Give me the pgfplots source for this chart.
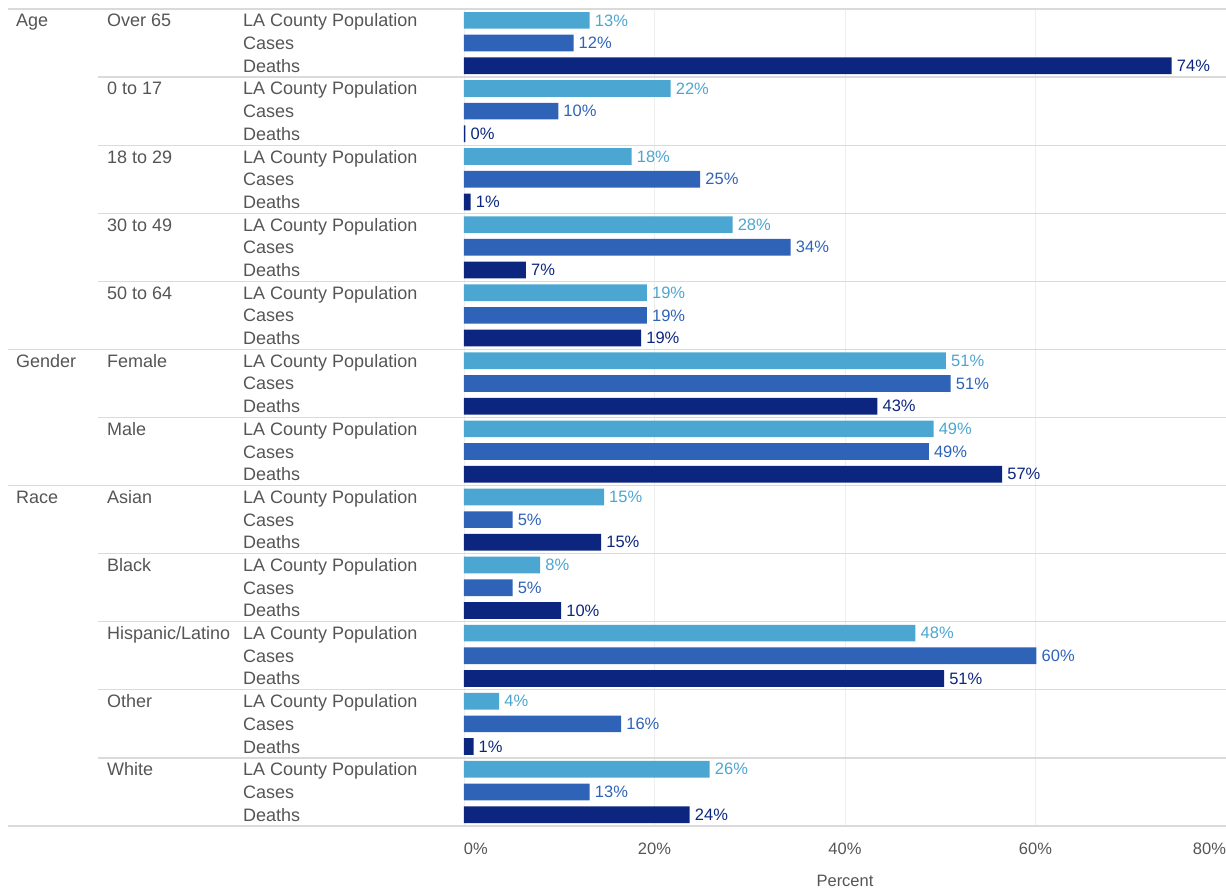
\documentclass[border=0pt]{standalone}
\usepackage{pgfplots}
\usepackage{pgfplotstable}
\pgfplotsset{compat=1.18}
\usepackage{fontspec}
\setmainfont{Liberation Sans}
\definecolor{cpop}{RGB}{75,166,209}
\definecolor{ccas}{RGB}{46,99,184}
\definecolor{cdea}{RGB}{12,38,128}
\definecolor{txt}{RGB}{85,85,85}
\definecolor{sep}{RGB}{218,218,218}
\definecolor{grd}{RGB}{238,238,238}
\newcommand\lab{\fontsize{18}{21}\selectfont}
\newcommand\val{\fontsize{16.5}{19}\selectfont}

\pgfplotstableread{
y v l
0 13.2 13
3 21.7 22
6 17.6 18
9 28.2 28
12 19.2 19
15 50.6 51
18 49.3 49
21 14.7 15
24 8.0 8
27 47.4 48
30 3.7 4
33 25.8 26
}\tpop
\pgfplotstableread{
y v l
1 11.5 12
4 9.9 10
7 24.8 25
10 34.3 34
13 19.2 19
16 51.1 51
19 48.8 49
22 5.1 5
25 5.1 5
28 60.1 60
31 16.5 16
34 13.2 13
}\tcas
\pgfplotstableread{
y v l
2 74.3 74
5 0.15 0
8 0.7 1
11 6.5 7
14 18.6 19
17 43.4 43
20 56.5 57
23 14.4 15
26 10.2 10
29 50.4 51
32 1.0 1
35 23.7 24
}\tdea

\begin{document}
\begin{tikzpicture}
\begin{axis}[
  scale only axis, width=762pt, height=817pt,
  xmin=0, xmax=80, ymin=-0.5, ymax=35.5, y dir=reverse,
  axis line style={draw=none}, ytick=\empty,
  xtick={0,20,40,60,80},
  xticklabels={\makebox[0pt][l]{0\%},20\%,40\%,60\%,\makebox[0pt][r]{80\%}},
  xmajorgrids, grid style={color=grd, line width=0.8pt},
  major tick length=0pt,
  xticklabel style={text=txt, font=\val, anchor=base, yshift=-28pt},
  xlabel={Percent},
  xlabel style={text=txt, font=\val, anchor=base, at={(axis description cs:0.5,0)}, yshift=-60pt},
  xbar, bar width=16.7pt,
  clip=false,
  /pgf/number format/assume math mode=true,
  point meta=explicit,
  nodes near coords={\pgfmathprintnumber{\pgfplotspointmeta}\%},
  every node near coord/.append style={font=\val, anchor=west, inner sep=0pt, xshift=5pt},
]
\addplot[fill=cpop, draw=none, bar shift=0pt, every node near coord/.append style={text=cpop}] table[x=v,y=y,meta=l]{\tpop};
\addplot[fill=ccas, draw=none, bar shift=0pt, every node near coord/.append style={text=ccas}] table[x=v,y=y,meta=l]{\tcas};
\addplot[fill=cdea, draw=none, bar shift=0pt, every node near coord/.append style={text=cdea}] table[x=v,y=y,meta=l]{\tdea};
\coordinate (O) at (axis cs:0,35.5);
\end{axis}
\pgfresetboundingbox
\begin{scope}[shift={(O)}, xshift=-464pt, yshift=-63pt, x=1pt, y=1pt]
\path[use as bounding box] (0,0) rectangle (1226,889);
% separators
\foreach \g in {1,2,3,4,6,8,9,10,11} {
  \draw[sep, line width=1.2pt] (98,{880-3*\g*22.69444}) -- (1226,{880-3*\g*22.69444});
}
\foreach \g in {0,5,7,12} {
  \draw[sep, line width=1.2pt] (8,{880-3*\g*22.69444}) -- (1226,{880-3*\g*22.69444});
}
% row labels
\foreach \g in {0,...,11} {
  \node[anchor=base west, inner sep=0, text=txt, font=\lab] at (243,{880-(3*\g+0.5)*22.69444-6.5}) {LA County Population};
  \node[anchor=base west, inner sep=0, text=txt, font=\lab] at (243,{880-(3*\g+1.5)*22.69444-6.5}) {Cases};
  \node[anchor=base west, inner sep=0, text=txt, font=\lab] at (243,{880-(3*\g+2.5)*22.69444-6.5}) {Deaths};
}
\foreach \g/\n in {0/Over 65,1/0 to 17,2/18 to 29,3/30 to 49,4/50 to 64,5/Female,6/Male,7/Asian,8/Black,9/Hispanic\slash Latino,10/Other,11/White} {
  \node[anchor=base west, inner sep=0, text=txt, font=\lab] at (107,{880-(3*\g+0.5)*22.69444-6.5}) {\n};
}
\foreach \g/\n in {0/Age,5/Gender,7/Race} {
  \node[anchor=base west, inner sep=0, text=txt, font=\lab] at (16,{880-(3*\g+0.5)*22.69444-6.5}) {\n};
}
\end{scope}
\end{tikzpicture}
\end{document}
